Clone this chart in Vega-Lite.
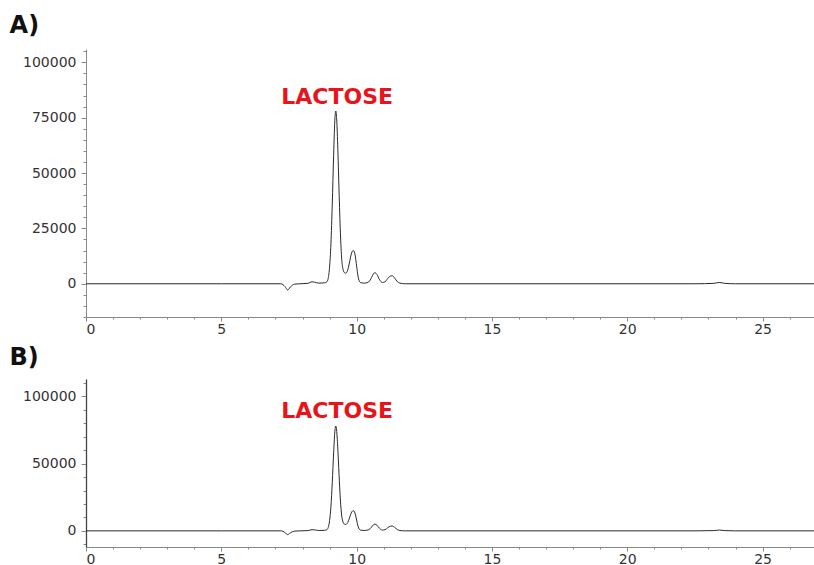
{
  "$schema": "https://vega.github.io/schema/vega-lite/v6.json",
  "padding": {"left": 9, "top": 14, "right": 0, "bottom": 0},
  "spacing": 10,
  "config": {
    "view": {"stroke": null},
    "font": "DejaVu Sans",
    "axis": {
      "grid": false,
      "domainColor": "#8a8a8a",
      "tickColor": "#8a8a8a",
      "labelColor": "#333333",
      "labelFont": "DejaVu Sans",
      "labelFontSize": 14,
      "labelOverlap": false,
      "labelBound": false,
      "tickCount": 200,
      "title": null
    },
    "title": {"font": "DejaVu Sans", "fontSize": 24, "fontWeight": 900, "color": "#111111", "anchor": "start", "frame": "bounds", "offset": 6}
  },
  "datasets": {
    "trace": [
      {"t": 0, "v": 0}, {"t": 5, "v": 0}, {"t": 7.2, "v": 0}, {"t": 7.35, "v": -1200},
      {"t": 7.45, "v": -2800}, {"t": 7.55, "v": -1500}, {"t": 7.7, "v": -200}, {"t": 7.9, "v": 0},
      {"t": 8.2, "v": 200}, {"t": 8.35, "v": 900}, {"t": 8.45, "v": 700}, {"t": 8.6, "v": 300},
      {"t": 8.8, "v": 400}, {"t": 8.9, "v": 900}, {"t": 8.95, "v": 2500}, {"t": 9.0, "v": 7500},
      {"t": 9.05, "v": 18000}, {"t": 9.1, "v": 36000}, {"t": 9.15, "v": 58000}, {"t": 9.2, "v": 75000},
      {"t": 9.23, "v": 78000}, {"t": 9.26, "v": 75000}, {"t": 9.3, "v": 63000}, {"t": 9.35, "v": 42000},
      {"t": 9.4, "v": 23000}, {"t": 9.45, "v": 11000}, {"t": 9.5, "v": 6500}, {"t": 9.55, "v": 5000},
      {"t": 9.6, "v": 4800}, {"t": 9.65, "v": 5500}, {"t": 9.7, "v": 7500}, {"t": 9.75, "v": 10500},
      {"t": 9.8, "v": 13300}, {"t": 9.87, "v": 15000}, {"t": 9.9, "v": 14800}, {"t": 9.95, "v": 12500},
      {"t": 10.0, "v": 8000}, {"t": 10.05, "v": 3500}, {"t": 10.1, "v": 1200}, {"t": 10.15, "v": 500},
      {"t": 10.3, "v": 300}, {"t": 10.45, "v": 900}, {"t": 10.55, "v": 2800}, {"t": 10.62, "v": 4500},
      {"t": 10.68, "v": 5000}, {"t": 10.75, "v": 4200}, {"t": 10.85, "v": 1800}, {"t": 10.95, "v": 600},
      {"t": 11.05, "v": 900}, {"t": 11.15, "v": 2400}, {"t": 11.25, "v": 3500}, {"t": 11.32, "v": 3600},
      {"t": 11.4, "v": 2700}, {"t": 11.5, "v": 1000}, {"t": 11.6, "v": 300}, {"t": 11.8, "v": 0},
      {"t": 16, "v": 0}, {"t": 22.5, "v": 0}, {"t": 23.2, "v": 200}, {"t": 23.4, "v": 600},
      {"t": 23.6, "v": 200}, {"t": 24, "v": 0}, {"t": 26.9, "v": 0}
    ]
  },
  "vconcat": [
    {
      "title": {"text": "A)", "dx": -13},
      "width": 728,
      "height": 268,
      "layer": [
        {
          "data": {"name": "trace"},
          "mark": {"type": "line", "color": "#2a2a2a", "strokeWidth": 1, "interpolate": "monotone"},
          "encoding": {
            "x": {
              "field": "t", "type": "quantitative",
              "scale": {"domain": [0, 26.9], "nice": false, "zero": false},
              "axis": {
                "values": [0,1,2,3,4,5,6,7,8,9,10,11,12,13,14,15,16,17,18,19,20,21,22,23,24,25,26],
                "tickCount": 200,
                "format": "d",
                "labelExpr": "datum.value % 5 === 0 ? datum.label : ''",
                "labelOverlap": false,
                "tickSize": {"condition": {"test": "datum.value % 5 === 0", "value": 4}, "value": 2},
                "labelPadding": 1
              }
            },
            "y": {
              "field": "v", "type": "quantitative",
              "scale": {"domain": [-15000, 106000], "nice": false, "zero": false},
              "axis": {
                "values": [-15000,-10000,-5000,0,5000,10000,15000,20000,25000,30000,35000,40000,45000,50000,55000,60000,65000,70000,75000,80000,85000,90000,95000,100000,105000],
                "tickCount": 200,
                "format": "d",
                "labelExpr": "datum.value % 25000 === 0 ? datum.label : ''",
                "labelOverlap": false,
                "tickSize": {"condition": {"test": "datum.value % 25000 === 0", "value": 5}, "value": 3},
                "labelPadding": 5
              }
            }
          }
        },
        {
          "data": {"values": [{"t": 9.28, "v": 84500, "name": "LACTOSE"}]},
          "mark": {"type": "text", "color": "#e8141c", "font": "DejaVu Sans", "fontSize": 22, "fontWeight": "bold", "align": "center", "baseline": "middle"},
          "encoding": {
            "x": {"field": "t", "type": "quantitative"},
            "y": {"field": "v", "type": "quantitative"},
            "text": {"field": "name"}
          }
        }
      ]
    },
    {
      "title": {"text": "B)", "dx": -13},
      "width": 728,
      "height": 168,
      "layer": [
        {
          "data": {"name": "trace"},
          "mark": {"type": "line", "color": "#2a2a2a", "strokeWidth": 1, "interpolate": "monotone"},
          "encoding": {
            "x": {
              "field": "t", "type": "quantitative",
              "scale": {"domain": [0, 26.9], "nice": false, "zero": false},
              "axis": {
                "values": [0,1,2,3,4,5,6,7,8,9,10,11,12,13,14,15,16,17,18,19,20,21,22,23,24,25,26],
                "tickCount": 200,
                "format": "d",
                "labelExpr": "datum.value % 5 === 0 ? datum.label : ''",
                "labelOverlap": false,
                "tickSize": {"condition": {"test": "datum.value % 5 === 0", "value": 4}, "value": 2},
                "labelPadding": 1
              }
            },
            "y": {
              "field": "v", "type": "quantitative",
              "scale": {"domain": [-12000, 113000], "nice": false, "zero": false},
              "axis": {
                "values": [-10000,0,10000,20000,30000,40000,50000,60000,70000,80000,90000,100000,110000],
                "tickCount": 200,
                "format": "d",
                "labelExpr": "datum.value % 50000 === 0 ? datum.label : ''",
                "labelOverlap": false,
                "tickSize": {"condition": {"test": "datum.value % 50000 === 0", "value": 5}, "value": 3},
                "labelPadding": 5,
                "domainColor": "#444444",
                "domainWidth": 1.3
              }
            }
          }
        },
        {
          "data": {"values": [{"t": 9.28, "v": 89500, "name": "LACTOSE"}]},
          "mark": {"type": "text", "color": "#e8141c", "font": "DejaVu Sans", "fontSize": 22, "fontWeight": "bold", "align": "center", "baseline": "middle"},
          "encoding": {
            "x": {"field": "t", "type": "quantitative"},
            "y": {"field": "v", "type": "quantitative"},
            "text": {"field": "name"}
          }
        }
      ]
    }
  ]
}
